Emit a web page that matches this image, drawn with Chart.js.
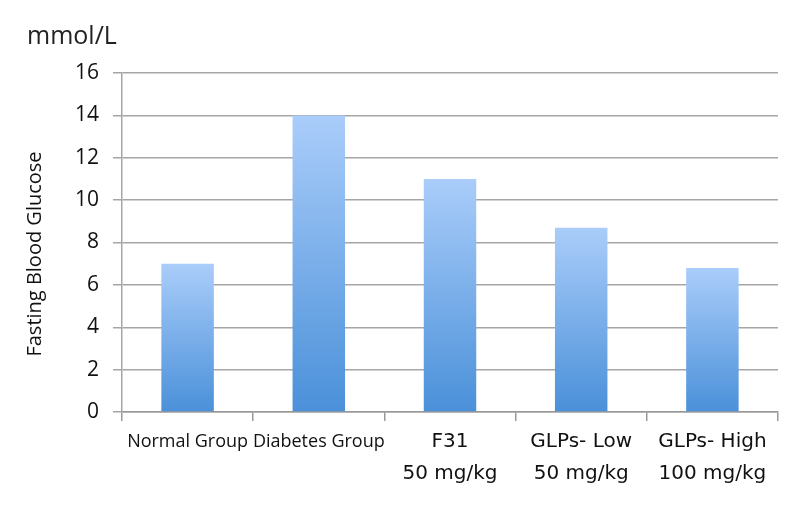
<!DOCTYPE html>
<html>
<head>
<meta charset="utf-8">
<script src="https://cdn.jsdelivr.net/npm/chart.js@4.4.0/dist/chart.umd.min.js"></script>
<style>
  html, body { margin: 0; padding: 0; background: #fff; }
  #wrap { width: 800px; height: 514px; }
</style>
</head>
<body>
<div id="wrap"><canvas id="glucoseChart" width="800" height="514"></canvas></div>
<script>
// Chart data
const groupLabels = [
    'Normal Group',
    'Diabetes Group',
    ['F31', '50 mg/kg'],
    ['GLPs- Low', '50 mg/kg'],
    ['GLPs- High', '100 mg/kg']
];
const glucoseValues = [7.0, 14.0, 11.0, 8.7, 6.8];
const yTicks = [0, 2, 4, 6, 8, 10, 12, 14, 16];

const unitText = 'mmol/L';
const yTitleText = 'Fasting Blood Glucose';

// Bar gradient, light at the top of each bar, darker at the base
function barGradient(context) {
    const chart = context.chart;
    if (!chart.chartArea || !chart.scales.y) {
        return 'rgb(130, 175, 235)';
    }
    const yScale = chart.scales.y;
    const top = yScale.getPixelForValue(context.raw);
    const base = yScale.getPixelForValue(0);
    const grad = chart.ctx.createLinearGradient(0, top, 0, base);
    grad.addColorStop(0, 'rgb(170, 205, 250)');
    grad.addColorStop(1, 'rgb(74, 144, 217)');
    return grad;
}

// Draws the unit label and the rotated axis title
const extraText = {
    id: 'extraText',
    afterDraw(chart) {
        const ctx = chart.ctx;
        ctx.save();
        ctx.fillStyle = '#222';
        ctx.font = '25px "Open Sans"';
        ctx.textAlign = 'left';
        ctx.textBaseline = 'alphabetic';
        ctx.fillText(unitText, 27, 44);

        ctx.fillStyle = '#111';
        ctx.font = '20px "Open Sans"';
        ctx.translate(35, 254);
        ctx.rotate(-Math.PI / 2);
        ctx.textAlign = 'center';
        ctx.textBaseline = 'middle';
        ctx.fillText(yTitleText, 0, 0);
        ctx.restore();
    }
};

new Chart(document.getElementById('glucoseChart'), {
    type: 'bar',
    data: {
        labels: groupLabels,
        datasets: [{
            data: glucoseValues,
            backgroundColor: barGradient,
            borderWidth: 0,
            categoryPercentage: 1.0,
            barPercentage: 0.4
        }]
    },
    options: {
        responsive: false,
        animation: false,
        layout: {
            padding: { top: 73, right: 22, left: 0, bottom: 0 }
        },
        scales: {
            x: {
                offset: true,
                grid: {
                    offset: true,
                    drawOnChartArea: false,
                    drawTicks: true,
                    tickLength: 9,
                    color: '#999',
                    lineWidth: 1.5
                },
                border: { color: '#999', width: 1.5 },
                ticks: {
                    color: '#111',
                    padding: 5,
                    maxRotation: 0,
                    autoSkip: false,
                    font: (c) => c.index < 2
                        ? { family: 'Open Sans', size: 18, lineHeight: '32px' }
                        : { family: 'DejaVu Sans', size: 20, lineHeight: '32px' }
                },
                afterFit(axis) { axis.height = 102; }
            },
            y: {
                min: 0,
                max: 16,
                afterBuildTicks(axis) {
                    axis.ticks = yTicks.map(v => ({ value: v }));
                },
                grid: {
                    color: '#a6a6a6',
                    lineWidth: 1.5,
                    tickLength: 9
                },
                border: { color: '#a6a6a6', width: 1.5 },
                ticks: {
                    color: '#111',
                    padding: 14,
                    font: { family: 'Open Sans', size: 21 }
                },
                afterFit(axis) { axis.width = 122; }
            }
        },
        plugins: {
            legend: { display: false },
            tooltip: { enabled: false }
        }
    },
    plugins: [extraText]
});
</script>
</body>
</html>
